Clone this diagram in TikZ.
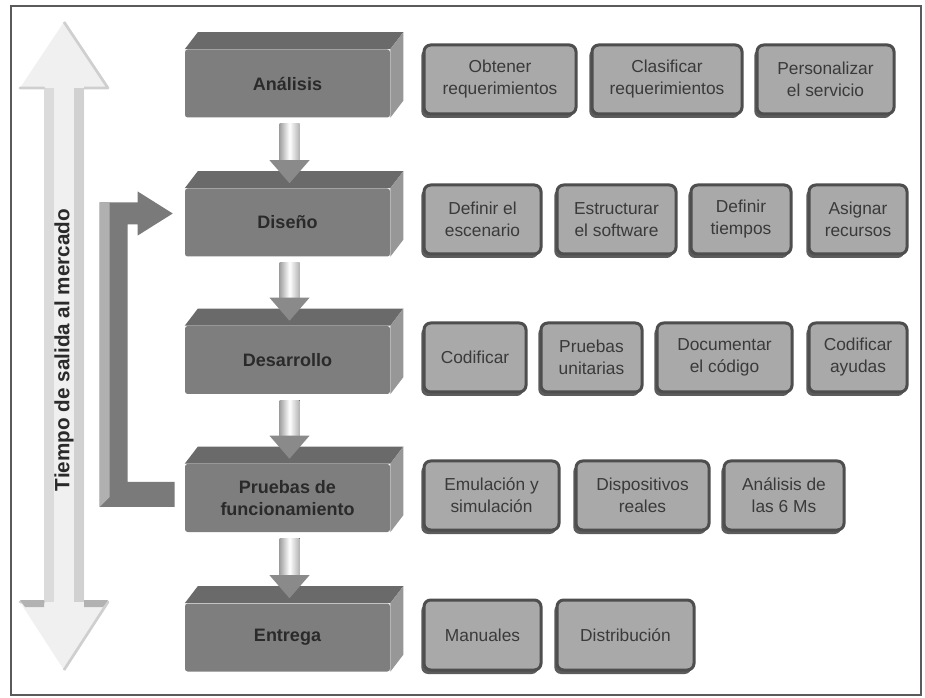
\documentclass[tikz,border=0pt]{standalone}
\usepackage{fontspec}
\setmainfont{Liberation Sans}
\usetikzlibrary{calc,shadows}
\definecolor{frontc}{HTML}{7E7E7E}
\definecolor{topc}{HTML}{6A6A6A}
\definecolor{sidec}{HTML}{979797}
\definecolor{labc}{HTML}{2A2A2A}
\definecolor{sbfill}{HTML}{A9A9A9}
\definecolor{sbdraw}{HTML}{4E4E4E}
\definecolor{sbshadow}{HTML}{5C5C5C}
\definecolor{sbtext}{HTML}{3A3A3A}
\definecolor{fbc}{HTML}{7A7A7A}
\definecolor{headc}{HTML}{8A8A8A}
\definecolor{framec}{HTML}{5A5A5A}
\newcommand\threed[1]{%
  \fill[topc] (#1.north west) -- ++(13,-17) -- ($(#1.north east)+(13,-17)$) -- (#1.north east) -- cycle;
  \fill[sidec] (#1.north east) -- ++(13,-17) -- ($(#1.south east)+(13,-17)$) -- (#1.south east) -- cycle;}
\newcommand\darrow[2]{%
  \fill[left color=gray!75, right color=gray!60, middle color=white] ($(#1.south)+(-8,6)$) rectangle ($(#2.north)+(12,-27)$);
  \fill[headc] ($(#2.north)+(-18,-28)$) -- ($(#2.north)+(22,-28)$) -- ($(#2.north)+(2,-5)$) -- cycle;}
\begin{document}
\begin{tikzpicture}[x=0.75pt,y=-0.75pt,
  mainbox/.style={fill=frontc, rounded corners=2pt, minimum width=205*0.75pt, minimum height=68*0.75pt,
    align=center, text=labc, font=\fontsize{13.5}{17}\selectfont\bfseries, inner sep=0pt},
  subbox/.style 2 args={draw=sbdraw, line width=2.25pt, fill=sbfill, rounded corners=5pt,
    minimum width=#1*0.75pt, minimum height=#2*0.75pt, align=center, text=sbtext,
    font=\fontsize{13}{16.5}\selectfont, inner sep=0pt,
    drop shadow={shadow xshift=-2pt, shadow yshift=-3pt, fill=sbshadow, opacity=1}}]
\useasboundingbox (0,0) rectangle (925,698);
\fill[white] (0,0) rectangle (925,698);
\draw[framec, line width=1.2pt] (11,6) rectangle (921,695);

% big double arrow
\coordinate (bt) at (64,22);
\coordinate (bb) at (64,670);
\fill[gray!12] (bt) -- (108,88) -- (84,88) -- (84,602) -- (108,602) -- (bb) -- (20,602) -- (44,602) -- (44,88) -- (20,88) -- cycle;
\fill[gray!28] (44,88) rectangle (54,602);
\fill[gray!36] (74,88) rectangle (84,602);
\draw[gray!38, line width=2pt, line join=round] (bt) -- (108,88) -- (84,88) (44,88) -- (20,88) -- cycle;
\draw[gray!38, line width=2pt, line join=round] (bb) -- (108,602) -- (84,602) (44,602) -- (20,602) -- cycle;
\fill[gray!60] (20,600) -- (44,600) -- (44,607) -- (25,607) -- cycle;
\fill[gray!60] (84,600) -- (108,600) -- (103,607) -- (84,607) -- cycle;
\node[rotate=90, font=\fontsize{15.5}{18}\selectfont\bfseries, text=labc] (tl) at (64,350) {Tiempo de salida al mercado};

% main boxes
\node[mainbox] (ana) at (287.5,83.5) {Análisis};
\node[mainbox] (dis) at (287.5,222.5) {Diseño};
\node[mainbox] (des) at (287.5,360) {Desarrollo};
\node[mainbox] (pru) at (287.5,498) {Pruebas de\\funcionamiento};
\node[mainbox] (ent) at (287.5,637.5) {Entrega};
\threed{ana}\threed{dis}\threed{des}\threed{pru}\threed{ent}

% down arrows
\darrow{ana}{dis}
\darrow{dis}{des}
\darrow{des}{pru}
\darrow{pru}{ent}

% feedback arrow
\coordinate (T) at ($(dis.west)+(-12,-9)$);
\coordinate (B) at ($(pru.west)+(-10,-4)$);
\coordinate (TL) at ($(T)+(-73,0)$);
\coordinate (TI) at ($(T)+(-45,0)$);
\fill[fbc] (T) -- ($(T)+(-35,-22)$) -- ($(T)+(-35,-11)$) -- ($(T)+(-73,-11)$)
  -- ($(TL |- B)+(0,13)$) -- ($(B)+(0,13)$) -- ($(B)+(0,-12)$) -- ($(TI |- B)+(0,-12)$)
  -- ($(T)+(-45,11)$) -- ($(T)+(-35,11)$) -- ($(T)+(-35,22)$) -- cycle;
\fill[gray!62] ($(T)+(-73,-11)$) -- ($(T)+(-63,-11)$) -- ($(TL |- B)+(10,3)$) -- ($(TL |- B)+(0,13)$) -- cycle;

% sub-boxes row 1
\node[subbox={152}{69}] (a1) at (500,79.5) {Obtener\\requerimientos};
\node[subbox={150}{69}] (a2) at (667,79.5) {Clasificar\\requerimientos};
\node[subbox={137}{69}] (a3) at (825.5,79.5) {Personalizar\\el servicio};
% row 2
\node[subbox={117}{69}] (b1) at (482.5,219.5) {Definir el\\escenario};
\node[subbox={119}{69}] (b2) at (616.5,219.5) {Estructurar\\el software};
\node[subbox={100}{69}] (b3) at (741,219.5) {Definir\\tiempos};
\node[subbox={98}{69}] (b4) at (858,219.5) {Asignar\\recursos};
% row 3
\node[subbox={102}{69}] (c1) at (475,357.5) {Codificar};
\node[subbox={101}{69}] (c2) at (591.5,357.5) {Pruebas\\unitarias};
\node[subbox={135}{69}] (c3) at (724.5,357.5) {Documentar\\el código};
\node[subbox={98}{69}] (c4) at (858,357.5) {Codificar\\ayudas};
% row 4
\node[subbox={135}{69}] (d1) at (491.5,495.5) {Emulación y\\simulación};
\node[subbox={133}{69}] (d2) at (642.5,495.5) {Dispositivos\\reales};
\node[subbox={120}{69}] (d3) at (784,495.5) {Análisis de\\las 6 Ms};
% row 5
\node[subbox={117}{70}] (e1) at (482.5,635) {Manuales};
\node[subbox={137}{70}] (e2) at (625.5,635) {Distribución};
\end{tikzpicture}
\end{document}
